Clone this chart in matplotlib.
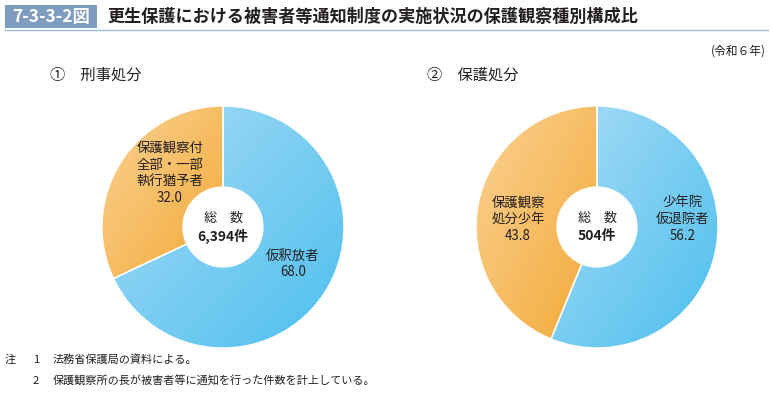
import numpy as np
import matplotlib.pyplot as plt
from matplotlib.colors import LinearSegmentedColormap
from matplotlib.patches import Rectangle

plt.rcParams['font.family'] = ['Noto Sans CJK JP', 'DejaVu Sans']

W, H = 773, 393

fig_no = "7-3-3-2図"
title = "更生保護における被害者等通知制度の実施状況の保護観察種別構成比"
year_note = "(令和６年)"

# 1: 刑事処分
sub1 = "①　刑事処分"
labels1 = ["仮釈放者", "保護観察付\n全部・一部\n執行猶予者"]
values1 = [68.0, 32.0]
total1 = "6,394件"

# 2: 保護処分
sub2 = "②　保護処分"
labels2 = ["少年院\n仮退院者", "保護観察\n処分少年"]
values2 = [56.2, 43.8]
total2 = "504件"

notes = ["法務省保護局の資料による。", "保護観察所の長が被害者等に通知を行った件数を計上している。"]

blue_cm = LinearSegmentedColormap.from_list("b", ["#a9dcf6", "#4cbfee"])
orange_cm = LinearSegmentedColormap.from_list("o", ["#fad294", "#f3a936"])
txt = "#231f20"

fig = plt.figure(figsize=(W / 100, H / 100), dpi=100)


def px(x, y):
    return x / W, 1 - y / H


def donut(cx, cy, r, values, labels, total, label_pos):
    ax = fig.add_axes([(cx - r) / W, (H - cy - r) / H, 2 * r / W, 2 * r / H])
    wedges, _ = ax.pie(values, startangle=90, counterclock=False, radius=1,
                       wedgeprops=dict(width=0.67, facecolor="none",
                                       edgecolor="white", linewidth=1.0, zorder=3))
    grad = np.add.outer(np.linspace(0, 1, 200), np.linspace(0, 1, 200)) / 2
    for w, cm in zip(wedges, [blue_cm, orange_cm]):
        ext = w.get_path().get_extents()
        im = ax.imshow(grad, cmap=cm, origin="upper", zorder=1,
                       extent=[ext.x0, ext.x1, ext.y0, ext.y1], aspect="auto")
        im.set_clip_path(w)
    ax.set_xlim(-1, 1)
    ax.set_ylim(-1, 1)
    ax.set_aspect("equal")
    ax.axis("off")
    for (lx, ly), lab, v in zip(label_pos, labels, values):
        fig.text(*px(lx, ly), lab + "\n" + f"{v:.1f}", ha="center", va="center",
                 fontsize=9.6, color=txt, linespacing=1.25)
    fig.text(*px(cx, cy - 9), "総　数", ha="center", va="center",
             fontsize=9.4, color=txt)
    fig.text(*px(cx, cy + 9), total, ha="center", va="center",
             fontsize=10, color=txt, weight="bold")


donut(223, 227, 121, values1, labels1, total1, [(293, 264), (170, 173)])
donut(597, 227, 121, values2, labels2, total2, [(683, 219), (518, 219)])

# title block
fig.patches.append(Rectangle(px(5, 28), 92 / W, 23 / H, transform=fig.transFigure,
                             facecolor="#7d9cc0", edgecolor="none"))
fig.text(*px(51, 17), fig_no, ha="center", va="center", fontsize=12.5,
         color="white", weight="bold")
fig.text(*px(107, 17), title, ha="left", va="center", fontsize=12.3,
         color=txt, weight="bold")
fig.add_artist(plt.Line2D([5 / W, 768 / W], [1 - 30 / H, 1 - 30 / H],
                          transform=fig.transFigure, color="#9ab8d8", lw=1))

fig.text(*px(766, 51), year_note, ha="right", va="center", fontsize=8.5, color=txt)
fig.text(*px(50, 75), sub1, ha="left", va="center", fontsize=11, color=txt)
fig.text(*px(427, 75), sub2, ha="left", va="center", fontsize=11, color=txt)

fig.text(*px(5, 360), "注", ha="left", va="center", fontsize=8, color=txt)
for i, n in enumerate(notes):
    y = 360 + 21 * i
    fig.text(*px(33, y), str(i + 1), ha="left", va="center", fontsize=8, color=txt)
    fig.text(*px(53, y), n, ha="left", va="center", fontsize=8, color=txt)

fig.savefig("out.png", dpi=100)
